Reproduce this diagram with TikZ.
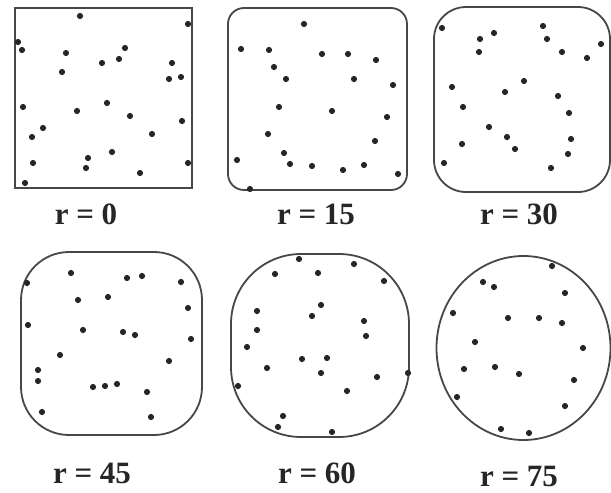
\documentclass[tikz,border=0pt]{standalone}
\usepackage{fontspec}
\setmainfont{Liberation Serif}
\begin{document}
\begin{tikzpicture}[x=1pt,y=-1pt,
  panel/.style={draw=black!72,line width=1.8pt},
  dot/.style={fill=black!85,draw=none},
  lbl/.style={font=\fontsize{31}{34}\selectfont\bfseries,text=black!85,inner sep=0pt}]
\useasboundingbox[fill=white] (0,0) rectangle (611,493);
% panels
\node[panel,minimum width=177pt,minimum height=180pt,inner sep=0pt] (p0) at (103.5,98) {};
\draw[panel,rounded corners=16pt] (228,8) rectangle (407,190);
\draw[panel,rounded corners=32pt] (434,7) rectangle (610,192);
\draw[panel,rounded corners=48pt] (21,252) rectangle (202,435);
\draw[panel,rounded corners=70pt] (231,254) rectangle (409,437);
\draw[panel] (523.5,348) ellipse (87pt and 92pt);
% labels
\node[lbl] (l0) at (86,214) {r = 0};
\node[lbl] (l15) at (316,214) {r = 15};
\node[lbl] (l30) at (519,214) {r = 30};
\node[lbl] (l45) at (92,473) {r = 45};
\node[lbl] (l60) at (317,473) {r = 60};
\node[lbl] (l75) at (519,476) {r = 75};
% dots
\foreach \x/\y in {80/16,188/24,18/42,22/50,125/48,66/53,119/59,102/63,172/63,62/72,169/79,181/77,23/107,107/103,77/111,130/116,182/121,43/128,32/137,152/134,112/152,88/158,33/163,86/168,188/163,140/173,25/183,
304/24,241/49,269/50,322/54,348/54,376/60,274/67,286/79,354/79,393/85,279/107,332/111,387/117,268/134,375/141,284/153,237/160,290/164,312/166,343/170,364/165,398/174,250/189,
442/28,480/39,494/33,543/26,547/39,601/44,479/52,562/52,587/58,452/87,524/81,505/92,558/96,463/107,569/113,489/127,507/137,571/139,462/144,515/149,568/154,444/163,551/168,
71/273,127/278,142/276,181/282,27/283,108/297,78/300,188/308,28/325,83/330,123/332,135/335,191/339,60/355,169/361,38/370,38/381,93/387,105/386,117/384,147/392,42/412,151/417,
299/259,354/264,275/274,318/273,384/281,257/311,321/305,312/316,364/321,257/330,366/336,247/347,302/359,327/358,267/368,321/373,377/377,238/386,347/391,283/416,278/427,332/432,408/373,
552/266,483/282,494/287,565/293,453/313,508/318,539/318,562/323,475/342,583/348,464/369,495/367,519/374,574/380,457/397,565/406,501/429,529/433}
  \fill[dot] (\x,\y) circle (3.1pt);
\end{tikzpicture}
\end{document}
